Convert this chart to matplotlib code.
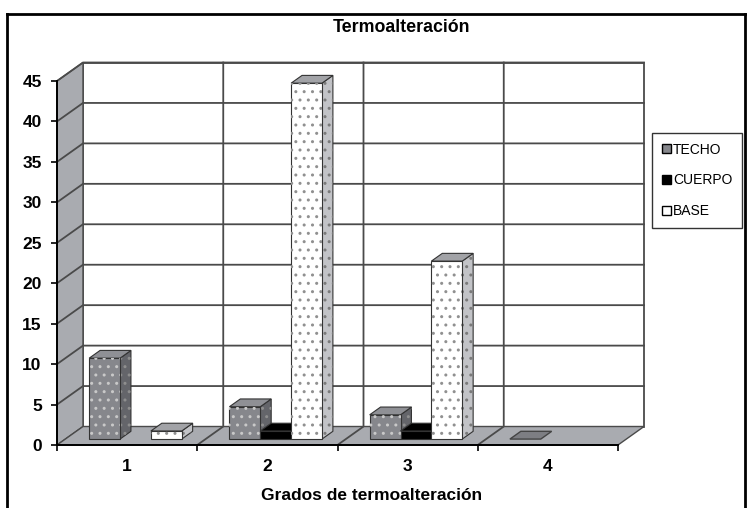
import numpy as np
import matplotlib.pyplot as plt
from matplotlib.patches import Patch
from matplotlib.lines import Line2D

plt.rcParams['font.family'] = ['Liberation Sans', 'DejaVu Sans']
plt.rcParams['hatch.linewidth'] = 1.0

# data
categories = ['1', '2', '3', '4']
series = ['TECHO', 'CUERPO', 'BASE']
techo = [10, 4, 3, 0]
cuerpo = [np.nan, 1, 1, np.nan]
base = [1, 44, 22, np.nan]
y_ticks = list(range(0, 50, 5))
title = 'Termoalteración'
xlabel = 'Grados de termoalteración'

W, H = 752, 508
fig = plt.figure(figsize=(W / 100, H / 100), dpi=100)

# front plane of the fake 3d box, in pixels
x0, x1, y0, y1 = 57, 618, 445, 81
ax = fig.add_axes([x0 / W, 1 - y0 / H, (x1 - x0) / W, (y0 - y1) / H])
ax.set_xlim(0.5, 4.5)
ax.set_ylim(0, 45)
ax.patch.set_visible(False)

# depth offset of the back wall, in data units
DX = 26 / ((x1 - x0) / 4)
DY = 18.5 / ((y0 - y1) / 45)


def p(x, y, d):
    return x + d * DX, y + d * DY


def poly(pts, **kw):
    xs, ys = zip(*pts)
    return ax.fill(xs, ys, clip_on=False, **kw)


wall = '#a9abb0'
grid = '#4a4a4a'
xa, xb, ymax = 0.5, 4.5, 45

# back wall, side wall, floor
poly([p(xa, 0, 1), p(xb, 0, 1), p(xb, ymax, 1), p(xa, ymax, 1)],
     facecolor='white', edgecolor=grid, linewidth=1.3, zorder=1)
poly([p(xa, 0, 0), p(xa, 0, 1), p(xa, ymax, 1), p(xa, ymax, 0)],
     facecolor=wall, edgecolor=grid, linewidth=1.0, zorder=1)
poly([p(xa, 0, 0), p(xb, 0, 0), p(xb, 0, 1), p(xa, 0, 1)],
     facecolor=wall, edgecolor=grid, linewidth=1.0, zorder=1)

for v in y_ticks[1:]:
    xs, ys = zip(p(xa, v, 0), p(xa, v, 1), p(xb, v, 1))
    ax.plot(xs, ys, color=grid, lw=1.3, zorder=1.5, clip_on=False)
for c in [1.5, 2.5, 3.5]:
    xs, ys = zip(p(c, 0, 0), p(c, 0, 1), p(c, ymax, 1))
    ax.plot(xs, ys, color=grid, lw=1.3, zorder=1.5, clip_on=False)

# bars
styles = {
    'TECHO': dict(front='#86878c', side='#64656a', top='#8f9095', dots='#c9c9c9', sdots='#8e8e8e'),
    'CUERPO': dict(front='black', side='black', top='black', dots=None, sdots=None),
    'BASE': dict(front='white', side='#c2c3c7', top='#a2a3a7', dots='#909090', sdots='#7a7a7a'),
}
values = {'TECHO': techo, 'CUERPO': cuerpo, 'BASE': base}
w, f1, f2 = 0.22, 0.32, 0.74
edge = '#333333'

z = 3
for i in range(len(categories)):
    for j, name in enumerate(series):
        v = values[name][i]
        if np.isnan(v):
            continue
        st = styles[name]
        xl = i + 1 + (j - 1.5) * w
        xr = xl + w
        if v == 0:
            poly([p(xl, 0, f1), p(xr, 0, f1), p(xr, 0, f2), p(xl, 0, f2)],
                 facecolor='#7d7e83', edgecolor='#444444', linewidth=1.0, zorder=z)
            z += 1
            continue
        # side and top faces
        poly([p(xr, 0, f1), p(xr, 0, f2), p(xr, v, f2), p(xr, v, f1)],
             facecolor=st['side'], edgecolor=edge, linewidth=0.8, zorder=z)
        if st['sdots']:
            poly([p(xr, 0, f1), p(xr, 0, f2), p(xr, v, f2), p(xr, v, f1)],
                 fill=False, hatch='..', edgecolor=st['sdots'], linewidth=0, zorder=z + 0.1)
        poly([p(xl, v, f1), p(xr, v, f1), p(xr, v, f2), p(xl, v, f2)],
             facecolor=st['top'], edgecolor=edge, linewidth=0.8, zorder=z + 0.2)
        # front face
        fx, fy = p(xl, 0, f1)
        ax.bar(fx, v, width=w, bottom=fy, align='edge', color=st['front'],
               edgecolor=edge, linewidth=0.8, zorder=z + 0.3, clip_on=False)
        if st['dots']:
            ax.bar(fx, v, width=w, bottom=fy, align='edge', fill=False, hatch='..',
                   edgecolor=st['dots'], linewidth=0, zorder=z + 0.4, clip_on=False)
        z += 1

# axes
for s in ['top', 'right']:
    ax.spines[s].set_visible(False)
for s in ['left', 'bottom']:
    ax.spines[s].set_linewidth(1.4)
    ax.spines[s].set_zorder(2)

ax.set_yticks(y_ticks)
ax.set_yticklabels([str(t) for t in y_ticks], fontweight='bold', fontsize=12.5)
ax.tick_params(axis='y', length=4, width=1.2, pad=7)
ax.set_xticks([1, 2, 3, 4])
ax.set_xticklabels(categories, fontweight='bold', fontsize=12.5)
ax.set_xticks([0.5, 1.5, 2.5, 3.5, 4.5], minor=True)
ax.tick_params(axis='x', which='major', length=0, pad=10)
ax.tick_params(axis='x', which='minor', length=4, width=1.2)

fig.text(402 / W, 1 - 27 / H, title, ha='center', va='center',
         fontweight='bold', fontsize=12.8)
fig.text(372 / W, 1 - 495 / H, xlabel, ha='center', va='center',
         fontweight='bold', fontsize=12.5)

handles = [Patch(facecolor=styles[s]['front'], edgecolor='black', label=s) for s in series]
leg = fig.legend(handles=handles, loc='upper left', bbox_to_anchor=(652 / W, 1 - 133 / H),
                 fontsize=10, frameon=True, fancybox=False, edgecolor='black',
                 handlelength=0.65, handleheight=0.65, handletextpad=0.15,
                 labelspacing=1.2, borderpad=0.7, borderaxespad=0)
leg.get_frame().set_linewidth(1.0)

# outer frame (bottom edge is cut off in the original)
for xs, ys in [([7, 7], [14, 508]), ([7, 745], [14, 14]), ([745, 745], [14, 508])]:
    fig.add_artist(Line2D([x / W for x in xs], [1 - y / H for y in ys],
                          color='black', lw=2, transform=fig.transFigure))

fig.savefig('out.png', dpi=100)
